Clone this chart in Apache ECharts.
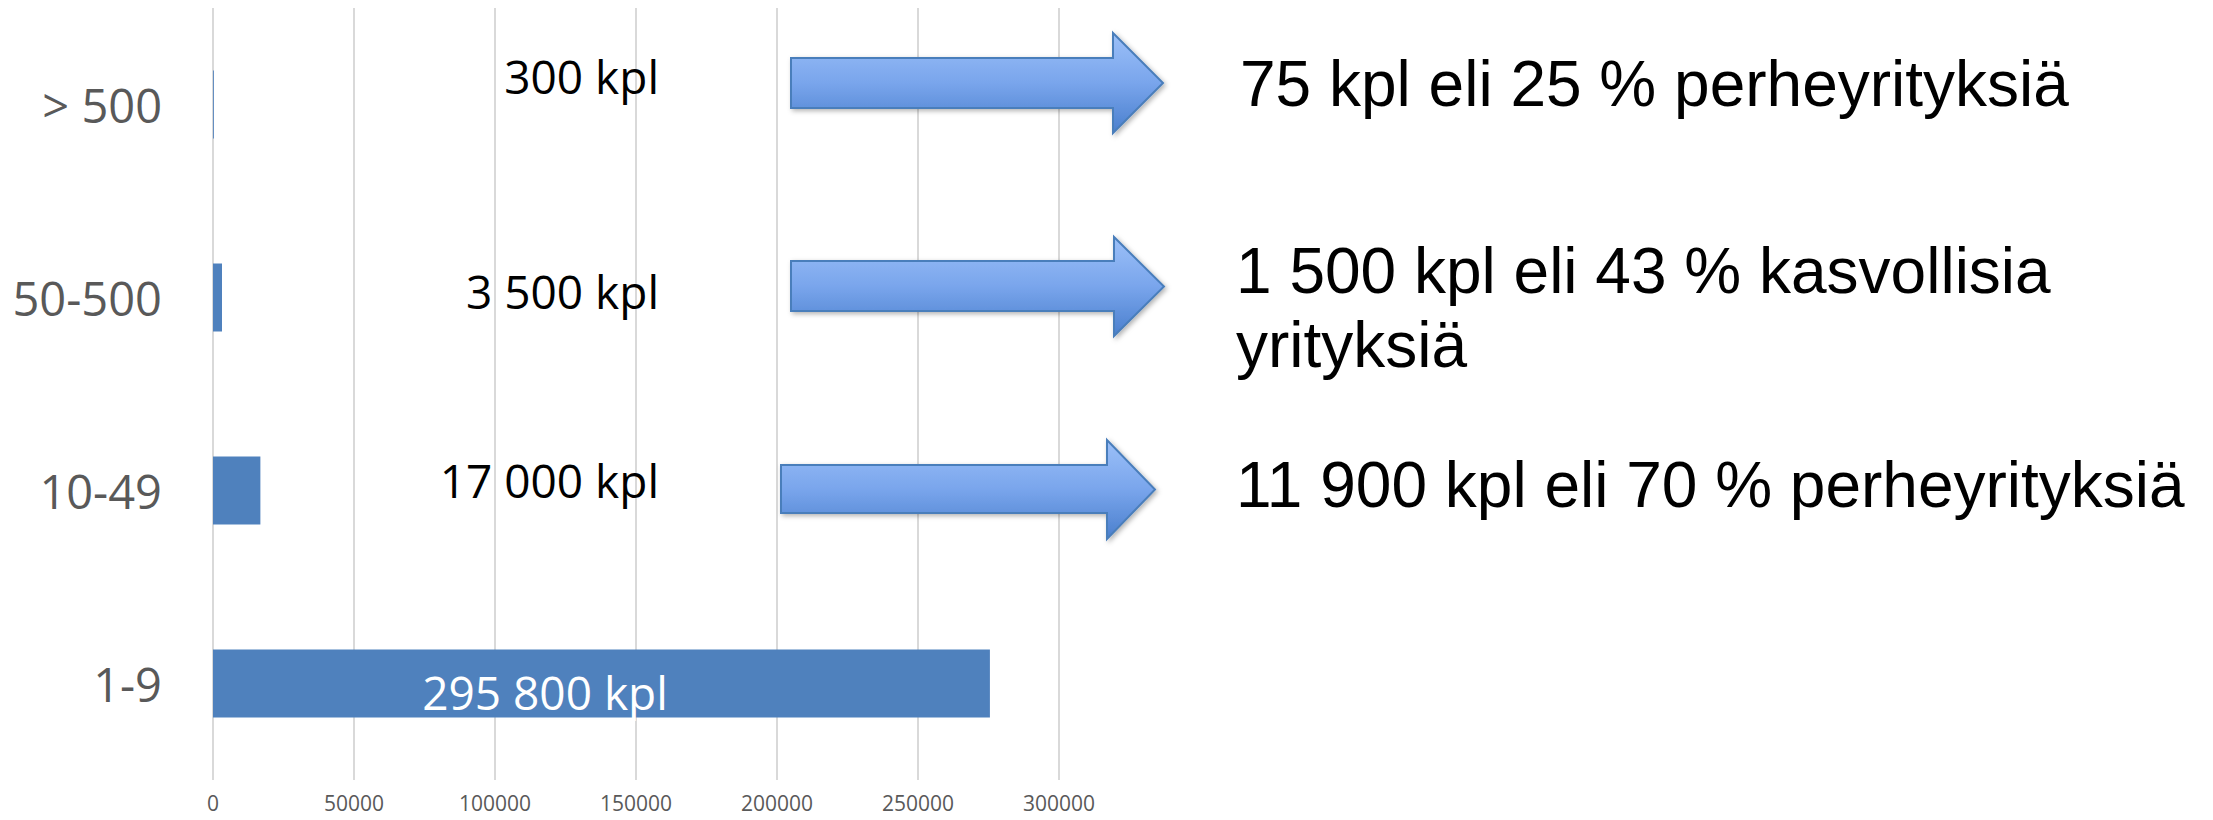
<!DOCTYPE html>
<html>
<head>
<meta charset="utf-8">
<script src="https://cdn.jsdelivr.net/npm/echarts@6/dist/echarts.min.js"></script>
<style>
html,body{margin:0;padding:0;background:#fff;}
#c{width:2213px;height:820px;}
</style>
</head>
<body>
<div id="c"></div>
<script>
// categories from bottom to top
var categories = ['1-9', '10-49', '50-500', '> 500'];
var companyCounts = [275500, 16800, 3200, 300];
var countLabels = ['295 800 kpl', '17 000 kpl', '3 500 kpl', '300 kpl'];
var notes = [
  '75 kpl eli 25 % perheyrityksiä',
  '1 500 kpl eli 43 % kasvollisia\nyrityksiä',
  '11 900 kpl eli 70 % perheyrityksiä'
];
var xTicks = [0, 50000, 100000, 150000, 200000, 250000, 300000];

var chart = echarts.init(document.getElementById('c'), null, {renderer: 'svg'});

var arrowFill = new echarts.graphic.LinearGradient(0, 0, 0, 1, [
  {offset: 0, color: '#9cc0f8'},
  {offset: 0.5, color: '#79a5ec'},
  {offset: 1, color: '#4a7fcd'}
]);
function arrow(x0, xh, xt, sTop, sBot, hTop, hBot) {
  var yt = (hTop + hBot) / 2;
  return {
    type: 'polygon',
    shape: {points: [[x0, sTop], [xh, sTop], [xh, hTop], [xt, yt], [xh, hBot], [xh, sBot], [x0, sBot]]},
    style: {fill: arrowFill, stroke: '#4a7ebb', lineWidth: 2,
            shadowBlur: 5, shadowColor: 'rgba(0,0,0,0.3)', shadowOffsetX: 2, shadowOffsetY: 2},
    z: 10
  };
}
var leftFont = '"Open Sans", "Noto Sans", sans-serif';
var rightFont = '"Liberation Sans", Arial, sans-serif';

var option = {
  backgroundColor: '#ffffff',
  animation: false,
  grid: {left: 213, right: 1154, top: 8, height: 772, containLabel: false, outerBoundsMode: 'none'},
  xAxis: {
    type: 'value',
    min: xTicks[0],
    max: xTicks[xTicks.length - 1],
    interval: xTicks[1] - xTicks[0],
    axisLine: {show: false},
    axisTick: {show: false},
    splitLine: {show: true, lineStyle: {color: '#d9d9d9', width: 2}},
    axisLabel: {color: '#595959', fontSize: 21, fontFamily: leftFont, margin: 12,
                formatter: function (v) { return String(v); }}
  },
  yAxis: {
    type: 'category',
    data: categories,
    axisLine: {show: false},
    axisTick: {show: false},
    splitLine: {show: false},
    axisLabel: {color: '#595959', fontSize: 47, fontFamily: leftFont, margin: 51}
  },
  series: [{
    type: 'bar',
    data: companyCounts,
    barWidth: 68,
    itemStyle: {color: '#4f81bd'},
    label: {show: false},
    silent: true
  }],
  graphic: [
    arrow(791, 1113, 1163, 58, 108, 33, 133),
    arrow(791, 1114, 1164, 261, 311, 237, 336),
    arrow(781, 1107, 1155, 465, 513, 440, 539),
    {type: 'text', x: 659, y: 76, z: 20, style: {text: countLabels[3], fill: '#000', font: '46px ' + leftFont, textAlign: 'right', textVerticalAlign: 'middle'}},
    {type: 'text', x: 659, y: 291, z: 20, style: {text: countLabels[2], fill: '#000', font: '46px ' + leftFont, textAlign: 'right', textVerticalAlign: 'middle'}},
    {type: 'text', x: 659, y: 480, z: 20, style: {text: countLabels[1], fill: '#000', font: '46px ' + leftFont, textAlign: 'right', textVerticalAlign: 'middle'}},
    {type: 'text', x: 545, y: 692, z: 20, style: {text: countLabels[0], fill: '#fff', font: '46px ' + leftFont, textAlign: 'center', textVerticalAlign: 'middle'}},
    {type: 'text', x: 1240, y: 84, z: 20, style: {text: notes[0], fill: '#000', font: '64px ' + rightFont, textAlign: 'left', textVerticalAlign: 'middle'}},
    {type: 'text', x: 1236, y: 308, z: 20, style: {text: notes[1], fill: '#000', font: '64px ' + rightFont, lineHeight: 74, textAlign: 'left', textVerticalAlign: 'middle'}},
    {type: 'text', x: 1236, y: 485, z: 20, style: {text: notes[2], fill: '#000', font: '64px ' + rightFont, textAlign: 'left', textVerticalAlign: 'middle'}}
  ]
};
chart.setOption(option);
</script>
</body>
</html>
